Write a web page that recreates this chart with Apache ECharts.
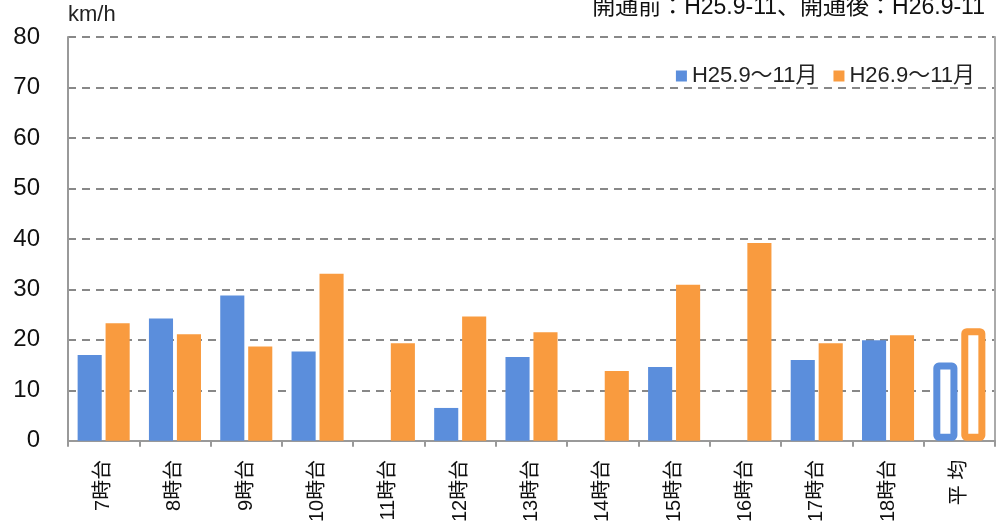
<!DOCTYPE html>
<html>
<head>
<meta charset="utf-8">
<script src="https://cdn.jsdelivr.net/npm/echarts@6/dist/echarts.min.js"></script>
<style>
  html, body { margin: 0; padding: 0; background: #fff; }
  #main { width: 1000px; height: 525px; }
</style>
</head>
<body>
<div id="main"></div>
<script>
  // データ
  var categories = ['7時台', '8時台', '9時台', '10時台', '11時台', '12時台', '13時台', '14時台', '15時台', '16時台', '17時台', '18時台', '平均'];
  var before = [17.0, 24.2, 28.8, 17.7, null, 6.5, 16.6, null, 14.6, null, 16.0, 19.9, 15.5];
  var after = [23.3, 21.1, 18.7, 33.1, 19.3, 24.6, 21.5, 13.8, 30.9, 39.2, 19.3, 20.9, 22.3];
  var seriesNames = ['H25.9～11月', 'H26.9～11月'];
  var yTicks = [0, 10, 20, 30, 40, 50, 60, 70, 80];

  var blue = '#5B8EDC';
  var orange = '#F99B3F';
  var font = '"Liberation Sans", Arial, "Noto Sans CJK JP", sans-serif';

  // 平均だけ枠線の棒にする
  function toItems(arr, color) {
    return arr.map(function (v, i) {
      if (categories[i] === '平均') {
        return {
          value: v,
          itemStyle: { color: '#fff', borderColor: color, borderWidth: 7, borderRadius: 2 }
        };
      }
      return v;
    });
  }

  var myChart = echarts.init(document.getElementById('main'));

  var option = {
    animation: false,
    textStyle: { fontFamily: font },
    grid: { left: 68, right: 5, top: 37, bottom: 82 },
    legend: {
      data: seriesNames,
      right: 20,
      top: 60,
      itemWidth: 11,
      itemHeight: 11,
      itemGap: 16,
      icon: 'rect',
      textStyle: { fontSize: 22, color: '#222', fontFamily: font }
    },
    graphic: [
      {
        type: 'text',
        right: 15,
        top: -4,
        style: {
          text: '開通前：H25.9-11、開通後：H26.9-11',
          font: '23px ' + font,
          fill: '#111'
        }
      },
      {
        type: 'text',
        left: 68,
        top: 4,
        style: { text: 'km/h', font: '22px ' + font, fill: '#222' }
      }
    ],
    xAxis: {
      type: 'category',
      data: categories,
      axisLine: { lineStyle: { color: '#999', width: 2 } },
      axisTick: { show: true, length: 6, lineStyle: { color: '#999', width: 2 } },
      axisLabel: {
        rotate: 90,
        margin: 19,
        fontSize: 20,
        color: '#111',
        interval: 0,
        fontFamily: font,
        formatter: function (v) { return v === '平均' ? '平 均' : v; }
      }
    },
    yAxis: [
      {
        type: 'value',
        min: yTicks[0],
        max: yTicks[yTicks.length - 1],
        interval: 10,
        axisLine: { show: true, lineStyle: { color: '#999', width: 2 } },
        axisTick: { show: false },
        axisLabel: { fontSize: 24, color: '#111', margin: 28, fontFamily: font },
        splitLine: { lineStyle: { color: '#888', width: 2, type: [8, 6] } }
      },
      {
        type: 'value',
        min: yTicks[0],
        max: yTicks[yTicks.length - 1],
        interval: 10,
        position: 'right',
        axisLine: { show: true, lineStyle: { color: '#aaa', width: 2 } },
        axisTick: { show: false },
        axisLabel: { show: false },
        splitLine: { show: false }
      }
    ],
    series: [
      {
        name: seriesNames[0],
        type: 'bar',
        data: toItems(before, blue),
        itemStyle: { color: blue },
        barGap: '16%',
        barCategoryGap: '27%'
      },
      {
        name: seriesNames[1],
        type: 'bar',
        data: toItems(after, orange),
        itemStyle: { color: orange }
      }
    ]
  };

  myChart.setOption(option);
</script>
</body>
</html>
